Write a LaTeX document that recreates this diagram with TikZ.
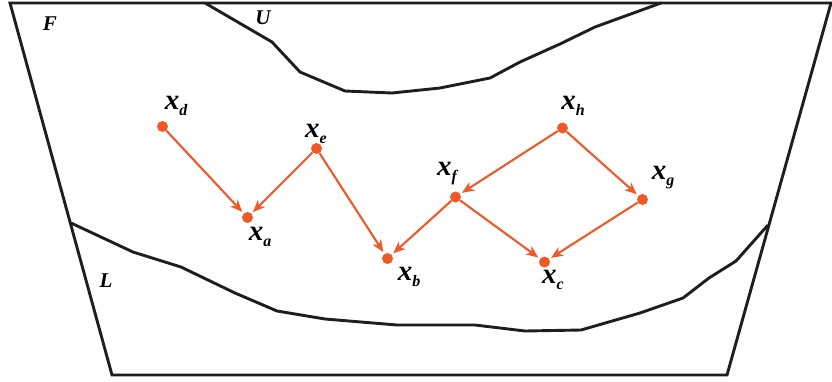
\documentclass[tikz,border=0pt]{standalone}
\usepackage{fontspec}
\setmainfont{Liberation Serif}
\usetikzlibrary{arrows.meta}
\definecolor{dotorange}{RGB}{240,88,40}
\definecolor{lineblack}{RGB}{30,30,30}
\tikzset{
  region/.style={draw=lineblack,line width=2.9pt,line join=miter},
  pt/.style={circle,fill=dotorange,inner sep=0pt,minimum width=11pt,minimum height=10pt},
  lbl/.style={font=\fontsize{29}{29}\selectfont\bfseries\itshape,inner sep=0pt},
  rlbl/.style={font=\fontsize{21}{21}\selectfont\bfseries\itshape,inner sep=0pt},
  link/.style={draw=dotorange,line width=2.1pt,-{Stealth[length=12pt,width=10pt,inset=3.5pt]},shorten >=2pt,shorten <=0pt}
}
\newcommand{\xl}[1]{x\raisebox{-6pt}{\fontsize{16}{16}\selectfont\itshape\bfseries #1}}
\begin{document}
\begin{tikzpicture}[x=1pt,y=-1pt]
\useasboundingbox (0,0) rectangle (832,381);
% outer trapezoid
\draw[region] (10,3) -- (831,3) -- (727,375) -- (112,375) -- cycle;
% U boundary
\draw[region,line join=round] (205,3) -- (272,42) -- (300,72) -- (345,91) -- (392,93) -- (440,88) -- (490,78) -- (520,62) -- (560,44) -- (595,27) -- (661,3);
% L boundary
\draw[region,line join=round] (71,223) -- (133,252) -- (181,267) -- (235,293) -- (277,311) -- (325,319) -- (397,325) -- (475,325) -- (525,331) -- (581,330) -- (640,313) -- (683,298) -- (709,278) -- (736,261) -- (768,225);
% region labels
\node[rlbl] (F) at (50,24) {F};
\node[rlbl] (U) at (263,18) {U};
\node[rlbl] (L) at (106,281) {L};
% points
\node[pt] (xd) at (162.5,126.5) {};
\node[pt] (xe) at (316.5,148.5) {};
\node[pt] (xa) at (247.5,217.5) {};
\node[pt] (xb) at (387.5,258.5) {};
\node[pt] (xh) at (562.5,128) {};
\node[pt] (xf) at (455.5,197) {};
\node[pt] (xg) at (642.5,199.5) {};
\node[pt] (xc) at (544.5,262) {};
% point labels
\node[lbl] (ld) at (176,106) {\xl{d}};
\node[lbl] (le) at (316,134) {\xl{e}};
\node[lbl] (la) at (260,237) {\xl{a}};
\node[lbl] (lb) at (409,277) {\xl{b}};
\node[lbl] (lh) at (573,106) {\xl{h}};
\node[lbl] (lf) at (447,174) {\xl{f}};
\node[lbl] (lg) at (663,178) {\xl{g}};
\node[lbl] (lc) at (553,280) {\xl{c}};
% links
\draw[link] (xd) -- (xa);
\draw[link] (xe) -- (xa);
\draw[link] (xe) -- (xb);
\draw[link] (xf) -- (xb);
\draw[link] (xh) -- (xf);
\draw[link] (xh) -- (xg);
\draw[link] (xf) -- (xc);
\draw[link] (xg) -- (xc);
\end{tikzpicture}
\end{document}
